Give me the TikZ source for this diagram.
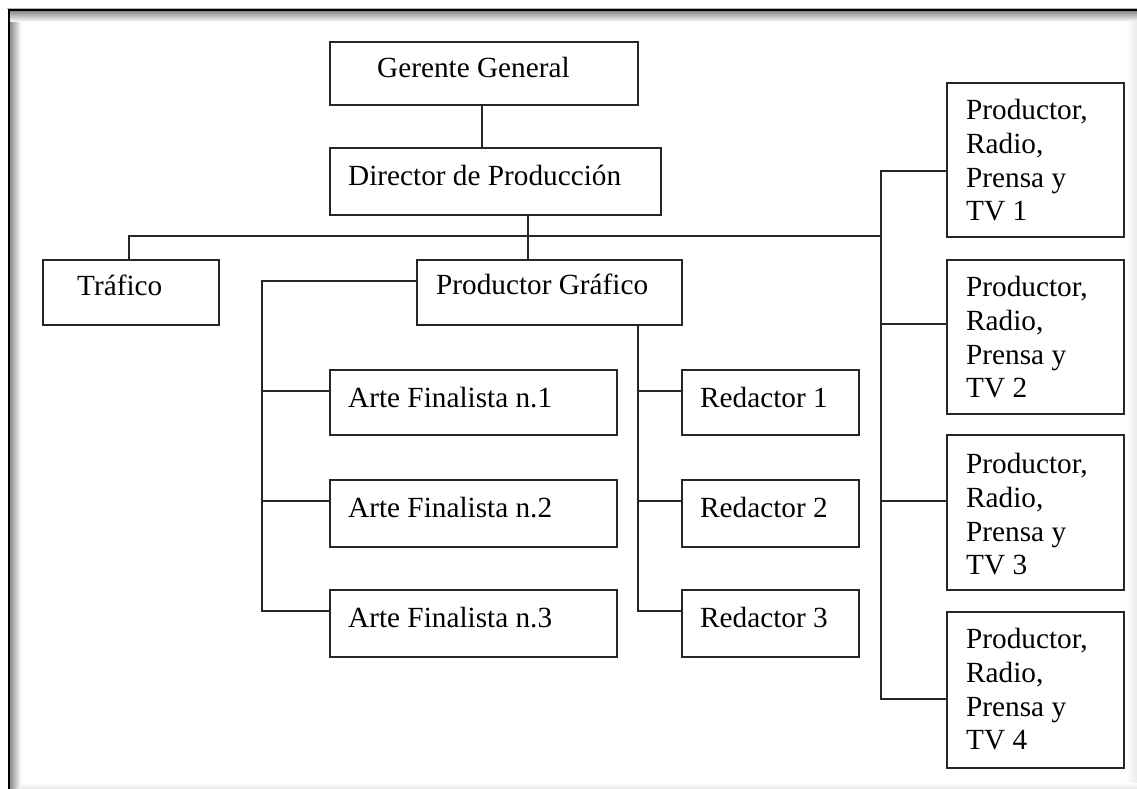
\documentclass[tikz,border=0pt]{standalone}
\usepackage{fontspec}
\setmainfont{Liberation Serif}
\newfontfamily\orgfont{Liberation Serif}
\begin{document}
\begin{tikzpicture}[x=1pt,y=-1pt,
  box/.style={draw=black!85,line width=1.6pt,fill=white,rectangle,inner sep=0pt,anchor=north west},
  txt/.style={inner sep=0pt,anchor=base west,text=black,font=\orgfont\fontsize{29.25}{33.8}\selectfont},
  mtxt/.style={inner sep=0pt,anchor=north west,align=left,text=black,font=\orgfont\fontsize{29.25}{33.8}\selectfont},
  link/.style={draw=black!85,line width=1.6pt}]
\useasboundingbox (0,0) rectangle (1137,789);
% page frame with inner shadow
\fill[white] (0,0) rectangle (1137,789);
\shade[left color=black!45,right color=white] (10,11) rectangle (21,789);
\shade[top color=black!45,bottom color=white] (10,11) rectangle (1137,22);
\shade[left color=white,right color=black!8] (1126,22) rectangle (1137,789);
\shade[top color=white,bottom color=black!10] (21,783) rectangle (1137,789);
\fill[black!30] (7,8) rectangle (1137,9.2);
\fill[black] (8,9.2) rectangle (1137,11);
\fill[black] (8,9.2) rectangle (10,789);

% boxes
\node[box,minimum width=308pt,minimum height=63pt] (gg) at (329,41) {};
\node[box,minimum width=331pt,minimum height=67pt] (dp) at (329,147) {};
\node[box,minimum width=176pt,minimum height=65pt] (tr) at (42,259) {};
\node[box,minimum width=265pt,minimum height=65pt] (pg) at (416,259) {};
\node[box,minimum width=287pt,minimum height=65pt] (a1) at (329,369) {};
\node[box,minimum width=287pt,minimum height=67pt] (a2) at (329,479) {};
\node[box,minimum width=287pt,minimum height=67pt] (a3) at (329,589) {};
\node[box,minimum width=177pt,minimum height=65pt] (r1) at (681,369) {};
\node[box,minimum width=177pt,minimum height=67pt] (r2) at (681,479) {};
\node[box,minimum width=177pt,minimum height=67pt] (r3) at (681,589) {};
\node[box,minimum width=177pt,minimum height=154pt] (p1) at (946,82) {};
\node[box,minimum width=177pt,minimum height=154pt] (p2) at (946,259) {};
\node[box,minimum width=177pt,minimum height=155pt] (p3) at (946,434) {};
\node[box,minimum width=177pt,minimum height=156pt] (p4) at (946,611) {};

% labels
\node[txt] (ggt) at (377,78) {Gerente General};
\node[txt] (dpt) at (348,185) {Director de Producción};
\node[txt] (trt) at (77,295) {Tráfico};
\node[txt] (pgt) at (436,294) {Productor Gráfico};
\node[txt] (a1t) at (348,407) {Arte Finalista n.1};
\node[txt] (a2t) at (348,517) {Arte Finalista n.2};
\node[txt] (a3t) at (348,627) {Arte Finalista n.3};
\node[txt] (r1t) at (700,407) {Redactor 1};
\node[txt] (r2t) at (700,517) {Redactor 2};
\node[txt] (r3t) at (700,627) {Redactor 3};
\node[mtxt] (p1t) at (966,99) {Productor,\\Radio,\\Prensa y\\TV 1};
\node[mtxt] (p2t) at (966,276) {Productor,\\Radio,\\Prensa y\\TV 2};
\node[mtxt] (p3t) at (966,453) {Productor,\\Radio,\\Prensa y\\TV 3};
\node[mtxt] (p4t) at (966,628) {Productor,\\Radio,\\Prensa y\\TV 4};

% junction points
\coordinate (bus) at (528,236);
\coordinate (busR) at (881,236);
\coordinate (artL) at (262,281);
\coordinate (redL) at (638,324);

% connectors
\draw[link] (gg.south -| 482,0) -- (dp.north -| 482,0);
\draw[link] (dp.south -| bus) -- (bus);
\draw[link] (tr.north -| 129,0) |- (busR);
\draw[link] (bus) -- (pg.north -| bus);
\draw[link] (p1.west |- 0,171) -| (881,699) -- (p4.west |- 0,699);
\draw[link] (881,324) -- (p2.west |- 0,324);
\draw[link] (881,501) -- (p3.west |- 0,501);
\draw[link] (pg.west |- artL) -- (artL) |- (a3.west |- 0,611);
\draw[link] (262,391) -- (a1.west |- 0,391);
\draw[link] (262,501) -- (a2.west |- 0,501);
\draw[link] (pg.south -| redL) |- (r3.west |- 0,611);
\draw[link] (638,391) -- (r1.west |- 0,391);
\draw[link] (638,501) -- (r2.west |- 0,501);
\end{tikzpicture}
\end{document}
